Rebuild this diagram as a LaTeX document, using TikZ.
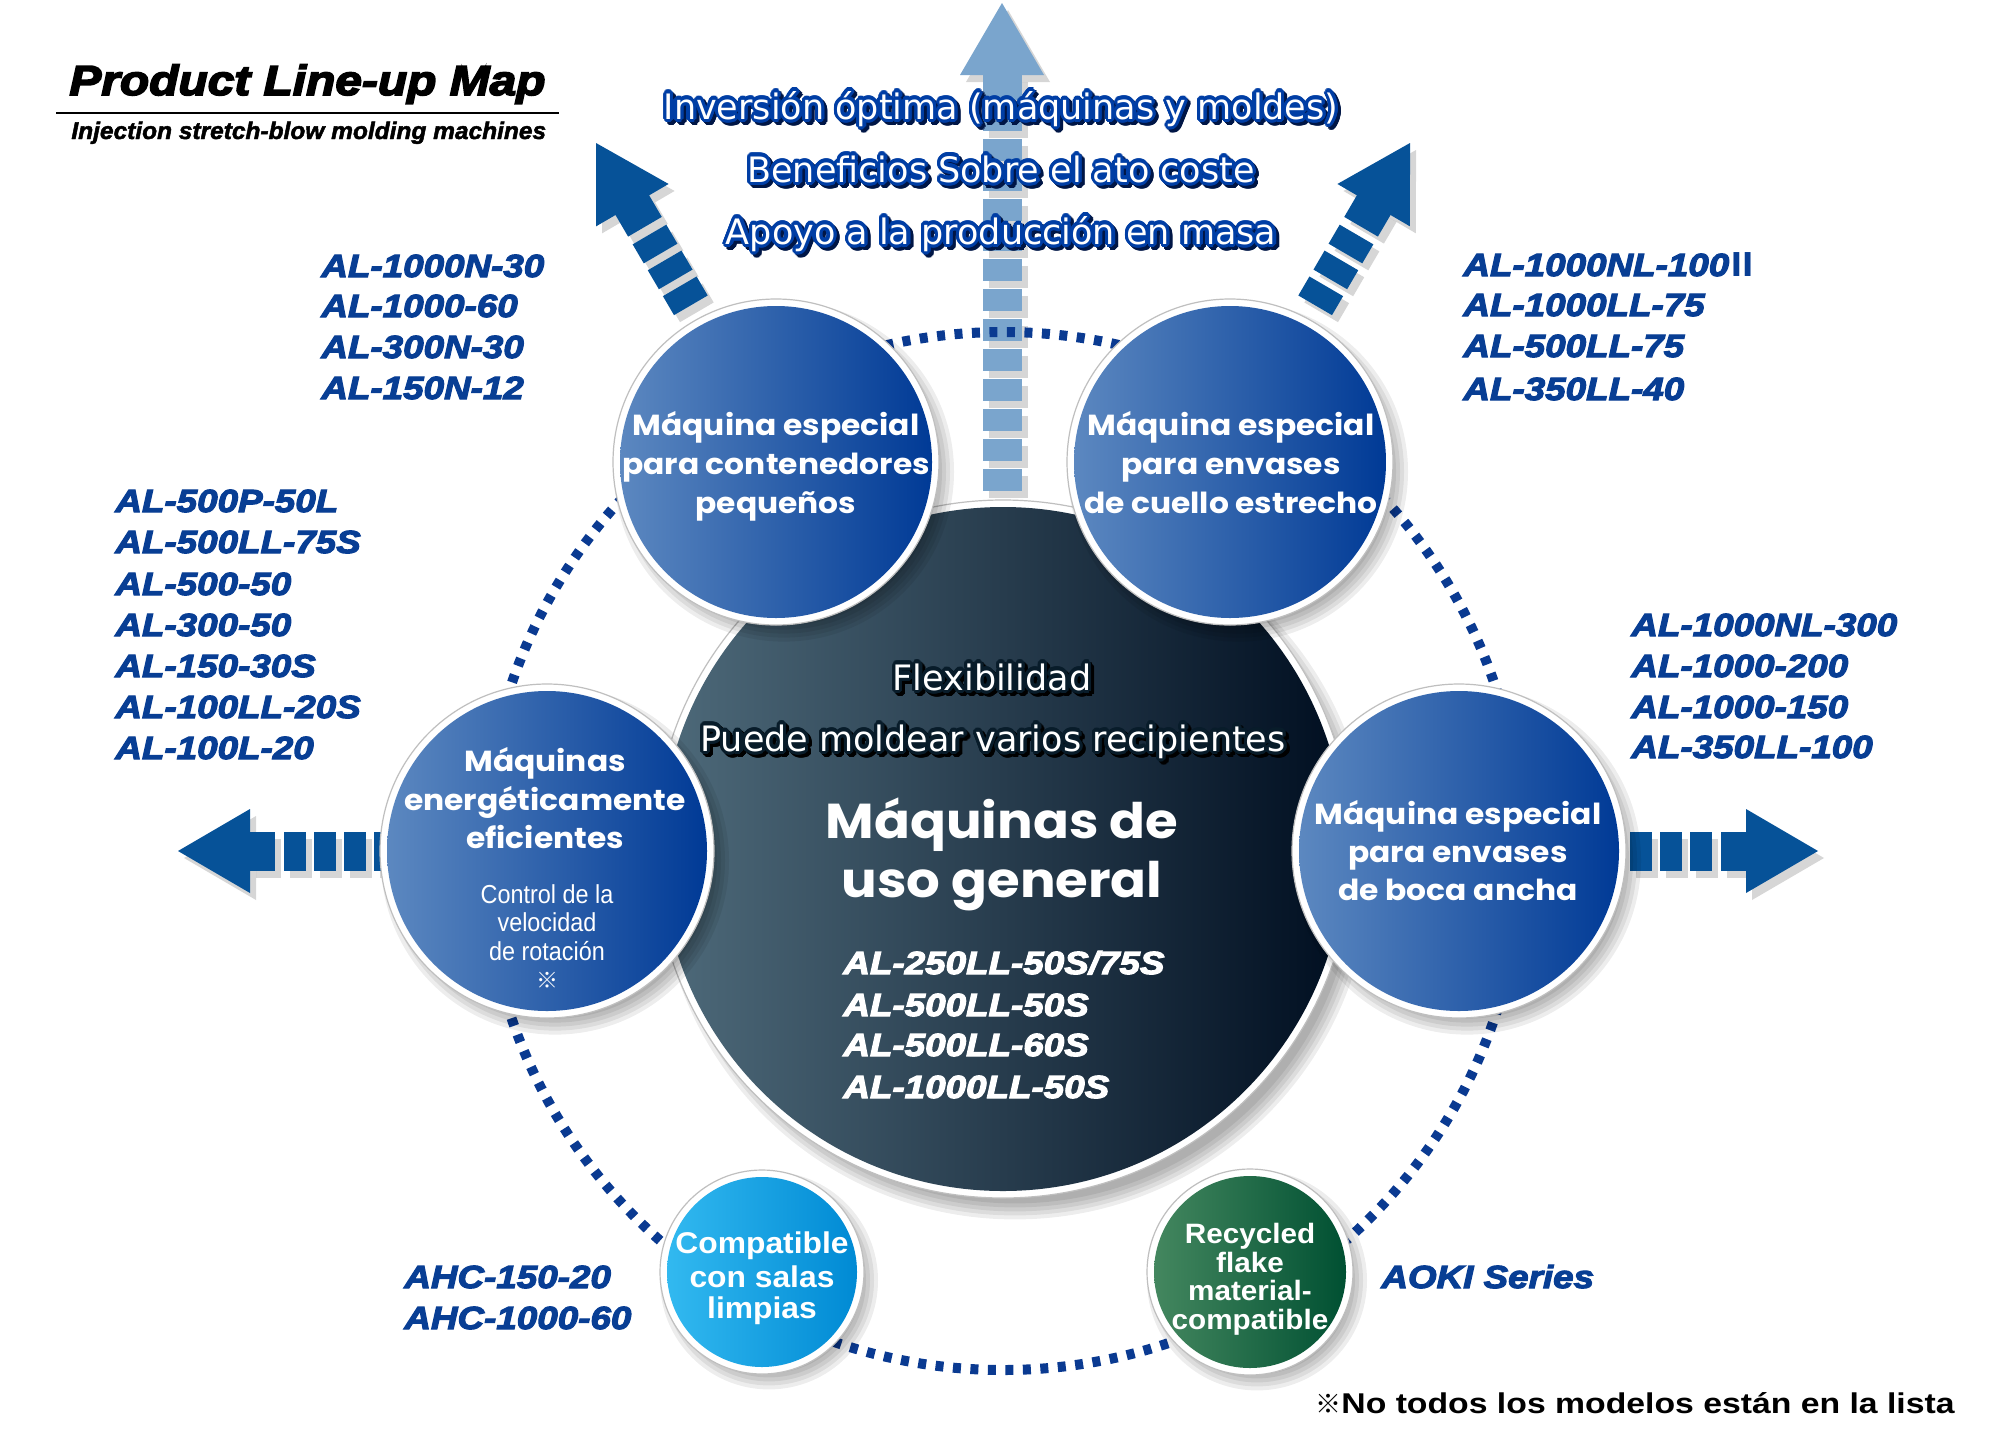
\documentclass[tikz,border=0pt]{standalone}
\usepackage{fontspec}
\usepackage[copies]{contour}
\usetikzlibrary{calc}
\setmainfont{Liberation Sans}
\newfontfamily\titlef{Liberation Sans}[FakeStretch=1.14, FakeBold=4]
\newfontfamily\subf{Liberation Sans}[FakeStretch=1.02, FakeBold=2]
\newfontfamily\modelf{Liberation Sans}[FakeStretch=1.15, FakeBold=3.5]
\newfontfamily\notef{Liberation Sans}[FakeStretch=1.18]
\newfontfamily\boldf{Liberation Sans}[FakeStretch=1.06]
\newfontfamily\smallf{Liberation Sans}[FakeStretch=0.9]
\newfontfamily\ovf{DejaVu Sans}
\newfontfamily\popf{Poppins}[FakeStretch=1.08]
\newfontfamily\cjkf{Noto Sans CJK JP}
\newcommand\fs[1]{\fontsize{#1}{#1}\selectfont}

\definecolor{modelblue}{RGB}{8,62,148}
\definecolor{arrowblue}{RGB}{6,82,152}
\definecolor{lightarrow}{RGB}{122,165,205}
\definecolor{dotblue}{RGB}{10,58,145}
\definecolor{ovline}{RGB}{0,62,165}
\definecolor{ovshadow}{RGB}{0,22,70}
\definecolor{cnline}{RGB}{8,28,42}
\definecolor{cnshadow}{RGB}{0,0,0}
\definecolor{bl1}{RGB}{92,136,192}
\definecolor{bl2}{RGB}{18,92,165}
\definecolor{bl3}{RGB}{0,58,150}
\definecolor{dk1}{RGB}{78,106,122}
\definecolor{dk2}{RGB}{26,56,72}
\definecolor{dk3}{RGB}{0,14,32}
\definecolor{sk1}{RGB}{50,185,240}
\definecolor{sk2}{RGB}{12,160,228}
\definecolor{sk3}{RGB}{0,138,212}
\definecolor{gr1}{RGB}{68,135,95}
\definecolor{gr2}{RGB}{20,102,66}
\definecolor{gr3}{RGB}{0,80,50}

\contourlength{1.6pt}
\contournumber{20}

% arrow: tip, rotation, colour, number of segments
\newcommand\bigarrow[4]{%
  \begin{scope}[shift={($(#1)+(6,7)$)}, rotate=#2]
    \fill[black,opacity=0.16] (0,0) -- (72,-42) -- (72,42) -- cycle;
    \fill[black,opacity=0.16] (72,-19.5) rectangle (97,19.5);
    \foreach \k in {1,...,#4} \fill[black,opacity=0.16] ({76+30*\k},-19.5) rectangle ({98+30*\k},19.5);
  \end{scope}
  \begin{scope}[shift={(#1)}, rotate=#2]
    \fill[#3] (0,0) -- (72,-42) -- (72,42) -- cycle;
    \fill[#3] (71,-19.5) rectangle (97,19.5);
    \foreach \k in {1,...,#4} \fill[#3] ({76+30*\k},-19.5) rectangle ({98+30*\k},19.5);
  \end{scope}}

% bubble: name, centre, radius, left, middle, right colour, shadow offset
\newcommand\bubble[7]{%
  \coordinate (#1) at (#2);
  \foreach \g in {-14,-10,-6,-2,2}
    \fill[black,opacity=0.07] ($(#1)+(#7,{1.2*#7})$) circle [radius={#3-\g}];
  \fill[white] (#1) circle [radius={#3+7}];
  \draw[black!25, line width=0.6pt] (#1) circle [radius={#3+7}];
  \shade[left color=#4, middle color=#5, right color=#6] (#1) circle [radius=#3];}

% outlined text: name, position, size, outline colour, shadow colour, text
\newcommand\otext[6]{%
  \node[anchor=base, inner sep=0, font=\ovf\fs{#3}, text=#5] (#1-s) at ($(#2)+(3,3)$) {\contour{#5}{#6}};
  \node[anchor=base, inner sep=0, font=\ovf\fs{#3}, text=white] (#1) at (#2) {\contour{#4}{#6}};}

\begin{document}
\begin{tikzpicture}[x=0.5pt,y=-0.5pt,
  model/.style={anchor=base west, inner sep=0, text=modelblue, font=\modelf\bfseries\itshape\fs{16}},
  wmodel/.style={anchor=base west, inner sep=0, text=white, font=\modelf\bfseries\itshape\fs{16}},
  ctext/.style={anchor=base, inner sep=0, text=white, font=\popf\bfseries\fs{14.5}},
  stext/.style={anchor=base, inner sep=0, text=white, font=\smallf\fs{13}},
  btext/.style={anchor=base, inner sep=0, text=white, font=\boldf\bfseries\fs{15}},
  gtext/.style={anchor=base, inner sep=0, text=white, font=\boldf\bfseries\fs{14}}]
\useasboundingbox (0,0) rectangle (2000,1440);
\fill[white] (0,0) rectangle (2000,1440);

% title
\node[anchor=base west, inner sep=0, font=\titlef\bfseries\itshape\fs{21}] (title) at (69,95) {Product Line-up Map};
\coordinate (ruleL) at (56,113);
\coordinate (ruleR) at (559,113);
\draw[line width=1pt] (ruleL) -- (ruleR);
\node[anchor=base west, inner sep=0, font=\subf\bfseries\itshape\fs{12}] (subtitle) at (71,139) {Injection stretch-blow molding machines};

% arrows
\coordinate (tipU) at (1002,3);
\coordinate (tipL) at (178,851);
\coordinate (tipR) at (1818,851);
\coordinate (tipUL) at (596,143);
\coordinate (tipUR) at (1410,143);
\bigarrow{tipU}{-90}{lightarrow}{13}
\bigarrow{tipL}{0}{arrowblue}{4}
\bigarrow{tipR}{180}{arrowblue}{3}
\bigarrow{tipUL}{-59.7}{arrowblue}{3}
\bigarrow{tipUR}{-120.3}{arrowblue}{3}

% dotted ring
\coordinate (ringc) at (1003,851);
\draw[dotblue, line width=5pt, dash pattern=on 4pt off 4.75pt] (ringc) circle [radius=519];

% central circle
\bubble{dc}{1003,849}{342}{dk1}{dk2}{dk3}{12}
% satellite circles
\bubble{c1}{776,462}{156}{bl1}{bl2}{bl3}{8}
\bubble{c2}{1230,462}{156}{bl1}{bl2}{bl3}{8}
\bubble{c3}{547,851}{160}{bl1}{bl2}{bl3}{8}
\bubble{c4}{1459,851}{160}{bl1}{bl2}{bl3}{8}
\bubble{c5}{762,1272}{95}{sk1}{sk2}{sk3}{7}
\bubble{c6}{1250,1272}{96}{gr1}{gr2}{gr3}{7}

% circle texts
\node[ctext] (c1a) at (776,435) {Máquina especial};
\node[ctext] (c1b) at (776,474) {para contenedores};
\node[ctext] (c1c) at (776,513) {pequeños};
\node[ctext] (c2a) at (1231,435) {Máquina especial};
\node[ctext] (c2b) at (1231,474) {para envases};
\node[ctext] (c2c) at (1231,513) {de cuello estrecho};
\node[ctext] (c3a) at (545,771) {Máquinas};
\node[ctext] (c3b) at (545,810) {energéticamente};
\node[ctext] (c3c) at (545,848) {eficientes};
\node[stext] (c3d) at (547,903) {Control de la};
\node[stext] (c3e) at (547,931) {velocidad};
\node[stext] (c3f) at (547,960) {de rotación};
\node[anchor=base, inner sep=0, text=white, font=\cjkf\fs{11}] (c3g) at (547,988) {※};
\node[ctext] (c4a) at (1458,824) {Máquina especial};
\node[ctext] (c4b) at (1458,862) {para envases};
\node[ctext] (c4c) at (1458,900) {de boca ancha};
\node[btext] (c5a) at (762,1253) {Compatible};
\node[btext] (c5b) at (762,1287) {con salas};
\node[btext] (c5c) at (762,1318) {limpias};
\node[gtext] (c6a) at (1250,1243) {Recycled};
\node[gtext] (c6b) at (1250,1272) {flake};
\node[gtext] (c6c) at (1250,1300) {material-};
\node[gtext] (c6d) at (1250,1329) {compatible};

% central circle texts
\otext{flex}{992,690}{17.5}{cnline}{cnshadow}{Flexibilidad}
\otext{puede}{993,751}{17.5}{cnline}{cnshadow}{Puede moldear varios recipientes}
\node[anchor=base, inner sep=0, text=white, font=\popf\bfseries\fs{24.5}] (gen1) at (1002,838) {Máquinas de};
\node[anchor=base, inner sep=0, text=white, font=\popf\bfseries\fs{24.5}] (gen2) at (1002,897) {uso general};
\node[wmodel] (g1) at (843,974) {AL-250LL-50S/75S};
\node[wmodel] (g2) at (843,1016) {AL-500LL-50S};
\node[wmodel] (g3) at (843,1056) {AL-500LL-60S};
\node[wmodel] (g4) at (843,1098) {AL-1000LL-50S};

% model lists
\node[model] (a1) at (321,277) {AL-1000N-30};
\node[model] (a2) at (321,317) {AL-1000-60};
\node[model] (a3) at (321,358) {AL-300N-30};
\node[model] (a4) at (321,399) {AL-150N-12};

\node[model] (b1) at (1463,276) {AL-1000NL-100\kern-1.2pt{\cjkf\bfseries\upshape Ⅱ}};
\node[model] (b2) at (1463,316) {AL-1000LL-75};
\node[model] (b3) at (1463,357) {AL-500LL-75};
\node[model] (b4) at (1463,400) {AL-350LL-40};

\node[model] (l1) at (115,512) {AL-500P-50L};
\node[model] (l2) at (115,553) {AL-500LL-75S};
\node[model] (l3) at (115,595) {AL-500-50};
\node[model] (l4) at (115,636) {AL-300-50};
\node[model] (l5) at (115,677) {AL-150-30S};
\node[model] (l6) at (115,718) {AL-100LL-20S};
\node[model] (l7) at (115,759) {AL-100L-20};

\node[model] (r1) at (1631,636) {AL-1000NL-300};
\node[model] (r2) at (1631,677) {AL-1000-200};
\node[model] (r3) at (1631,718) {AL-1000-150};
\node[model] (r4) at (1631,758) {AL-350LL-100};

\node[model] (h1) at (404,1288) {AHC-150-20};
\node[model] (h2) at (404,1329) {AHC-1000-60};
\node[model] (aoki) at (1381,1288) {AOKI Series};

% footnote
\node[anchor=base west, inner sep=0] (note) at (1315,1413) {{\cjkf\bfseries\fs{13}※}{\notef\bfseries\fs{14.3}No todos los modelos están en la lista}};

% top overlay texts
\otext{inv}{1001,119}{17.5}{ovline}{ovshadow}{Inversión óptima (máquinas y moldes)}
\otext{ben}{1001,182}{17.5}{ovline}{ovshadow}{Beneficios Sobre el ato coste}
\otext{apo}{1001,244}{17.5}{ovline}{ovshadow}{Apoyo a la producción en masa}
\end{tikzpicture}
\end{document}
